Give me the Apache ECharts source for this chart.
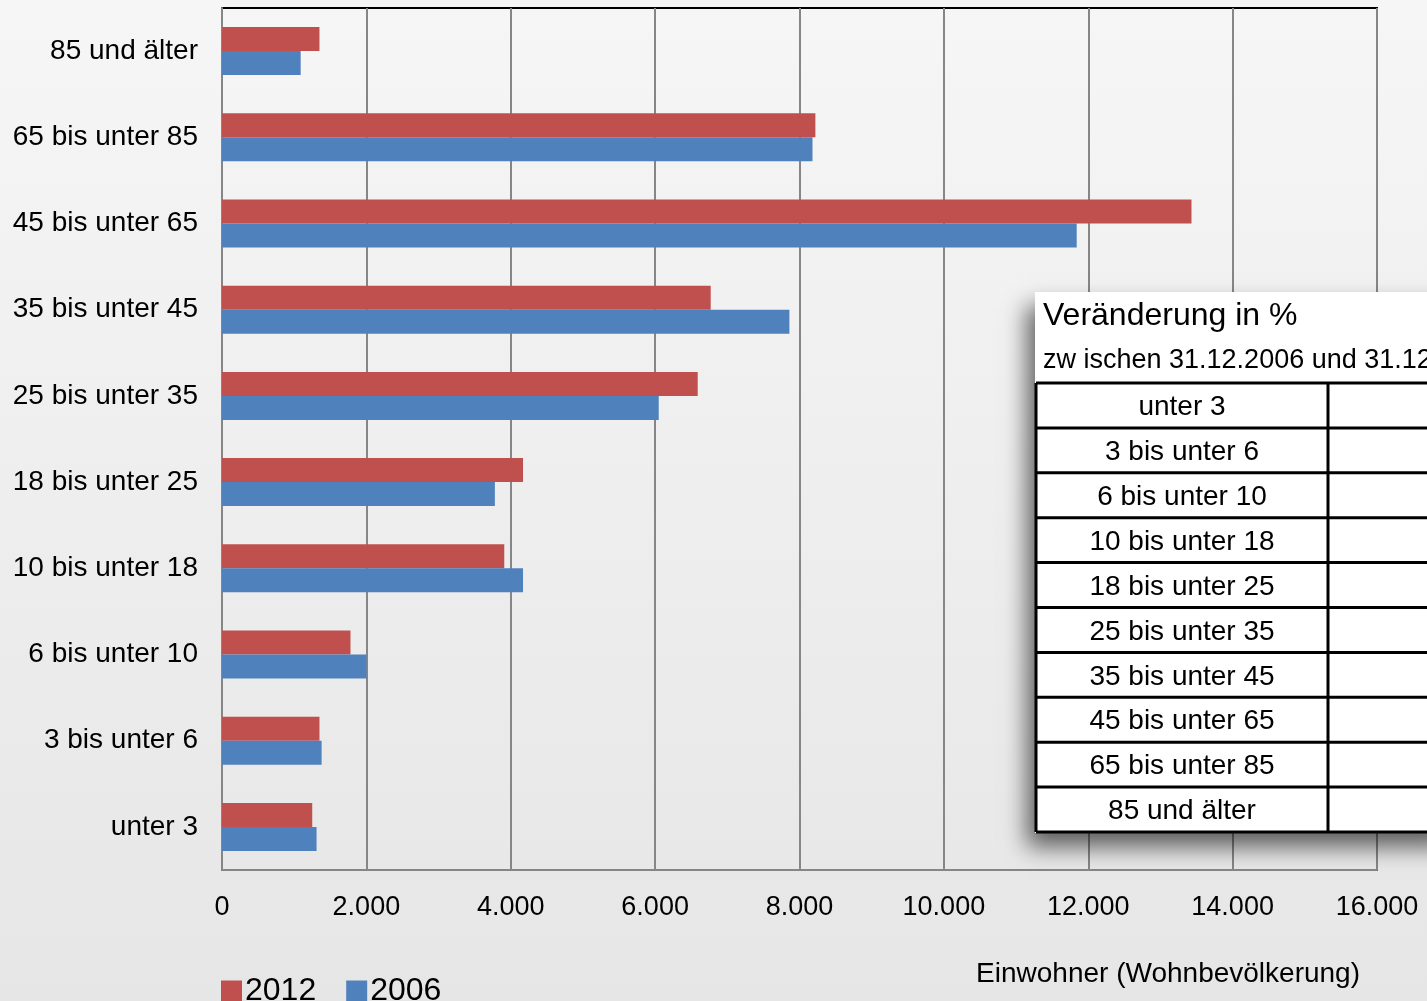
<!DOCTYPE html>
<html><head><meta charset="utf-8">
<script src="https://cdn.jsdelivr.net/npm/echarts@6/dist/echarts.min.js"></script>
<style>html,body{margin:0;padding:0;}#c{width:1427px;height:1001px;}</style>
</head><body><div id="c"></div>
<script>
const categories = ['unter 3','3 bis unter 6','6 bis unter 10','10 bis unter 18','18 bis unter 25','25 bis unter 35','35 bis unter 45','45 bis unter 65','65 bis unter 85','85 und älter'];
const values2012 = [1250, 1350, 1780, 3910, 4170, 6590, 6770, 13430, 8220, 1350];
const values2006 = [1310, 1380, 2000, 4170, 3780, 6050, 7860, 11840, 8180, 1090];
const xTickLabels = ['0','2.000','4.000','6.000','8.000','10.000','12.000','14.000','16.000'];
const tableTitle = 'Veränderung in %';
const tableSubtitle = 'zw ischen 31.12.2006 und 31.12.2012';
const axisTitle = 'Einwohner (Wohnbevölkerung)';

const FONT = '"Liberation Sans", Arial, sans-serif';
const chart = echarts.init(document.getElementById('c'));

const tX = 1036, tTop = 383, rowH = 44.9, colX = 1328;
const tableEls = [];
tableEls.push({type:'rect', shape:{x:1035,y:292,width:420,height:541},
  style:{fill:'#ffffff', shadowBlur:22, shadowOffsetX:-8, shadowOffsetY:14, shadowColor:'rgba(0,0,0,0.6)'}, z:100});
tableEls.push({type:'text', x:1043, y:316, style:{text:tableTitle, font:'32px '+FONT, fill:'#000', verticalAlign:'middle'}, z:101});
tableEls.push({type:'text', x:1043, y:361, style:{text:tableSubtitle, font:'27px '+FONT, fill:'#000', verticalAlign:'middle'}, z:101});
categories.forEach((c,i)=>{
  const y = tTop + i*rowH;
  tableEls.push({type:'text', x:(tX+colX)/2, y:y+rowH/2+2, style:{text:c, font:'28px '+FONT, fill:'#000', align:'center', verticalAlign:'middle'}, z:101});
  tableEls.push({type:'line', shape:{x1:tX, y1:y, x2:1440, y2:y}, style:{stroke:'#000', lineWidth:3}, z:102});
});
tableEls.push({type:'line', shape:{x1:tX, y1:tTop+10*rowH, x2:1440, y2:tTop+10*rowH}, style:{stroke:'#000', lineWidth:3}, z:102});
tableEls.push({type:'line', shape:{x1:tX, y1:tTop, x2:tX, y2:tTop+10*rowH}, style:{stroke:'#000', lineWidth:3}, z:102});
tableEls.push({type:'line', shape:{x1:colX, y1:tTop, x2:colX, y2:tTop+10*rowH}, style:{stroke:'#000', lineWidth:3}, z:102});
tableEls.push({type:'text', x:1360, y:974, style:{text:axisTitle, font:'28px '+FONT, fill:'#000', align:'right', verticalAlign:'middle'}, z:101});

chart.setOption({
  animation:false,
  backgroundColor:{type:'linear', x:0, y:0, x2:0, y2:1, colorStops:[{offset:0,color:'#f6f6f6'},{offset:1,color:'#e6e6e6'}]},
  textStyle:{fontFamily:FONT},
  grid:{left:222, right:50, top:8, bottom:131, show:true, borderColor:'#000', borderWidth:2, backgroundColor:'transparent'},
  legend:{data:['2012','2006'], left:216, top:970, itemWidth:21, itemHeight:21, itemGap:30,
    icon:'rect', textStyle:{fontSize:32, color:'#000', fontFamily:FONT, padding:[6,0,0,-2]}},
  xAxis:{type:'value', min:0, max:16000, interval:2000,
    axisLine:{show:true, lineStyle:{color:'#868686', width:2}},
    axisTick:{show:false},
    splitLine:{show:true, lineStyle:{color:'#868686', width:2}},
    axisLabel:{color:'#000', fontSize:27, margin:24, fontFamily:FONT,
      formatter:(v)=>xTickLabels[Math.round(v/2000)]}},
  yAxis:{type:'category', data:categories,
    axisLine:{show:true, lineStyle:{color:'#868686', width:2}},
    axisTick:{show:false},
    axisLabel:{color:'#000', fontSize:28, margin:24, fontFamily:FONT}},
  series:[
    {name:'2012', type:'bar', data:values2012, barWidth:24, barGap:'0%', itemStyle:{color:'#c0504d'}},
    {name:'2006', type:'bar', data:values2006, barWidth:24, barGap:'0%', itemStyle:{color:'#4f81bd'}}
  ],
  graphic:{elements:tableEls}
});
</script></body></html>
